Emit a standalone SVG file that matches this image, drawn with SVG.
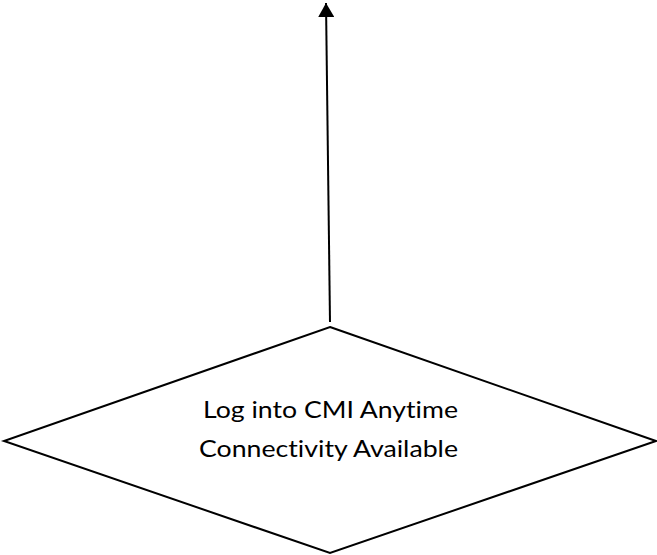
<svg xmlns="http://www.w3.org/2000/svg" width="657" height="555" viewBox="0 0 657 555">
  <style>
    .shape { fill: #ffffff; stroke: #000000; stroke-width: 2; }
    .edge { fill: none; stroke: #000000; stroke-width: 2; }
    .label { font-family: Lato, "Open Sans", "Liberation Sans", sans-serif; font-size: 23px; fill: #000000; text-anchor: middle; font-variant-ligatures: none; }
  </style>
  <defs>
    <marker id="arrow" markerUnits="userSpaceOnUse" markerWidth="16" markerHeight="16" refX="14" refY="8" orient="auto">
      <path d="M0,0 L14,8 L0,16 Z" fill="#000000"/>
    </marker>
  </defs>
  <rect width="657" height="555" fill="#ffffff"/>
  <g id="connectors">
    <line class="edge" x1="330" y1="322" x2="326" y2="3" marker-end="url(#arrow)"/>
  </g>
  <g id="decision">
    <polygon class="shape" points="330,327 656,441 330,553 4,441"/>
    <text class="label" x="330.5" y="418" textLength="255" lengthAdjust="spacingAndGlyphs">Log into CMI Anytime</text>
    <text class="label" x="328.5" y="457" textLength="259" lengthAdjust="spacingAndGlyphs">Connectivity Available</text>
  </g>
</svg>
